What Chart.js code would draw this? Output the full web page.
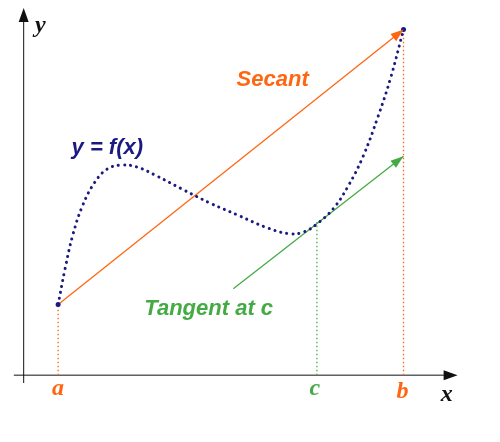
<!DOCTYPE html>
<html>
<head>
<meta charset="utf-8">
<script src="https://cdn.jsdelivr.net/npm/chart.js@4"></script>
<style>body{margin:0;background:#fff}</style>
</head>
<body>
<canvas id="mvt" width="500" height="442"></canvas>
<script>
// coordinates in picture units: x to the right, y upward from the bottom edge
var curveX = [55, 62, 70, 80, 92, 105, 120, 135, 155, 180, 210, 240, 265, 290, 305, 318, 335, 350, 365, 380, 393, 406];
var curveY = [136, 172, 207, 237, 260, 274, 278, 276, 267, 254, 239, 226, 215, 208, 210, 218, 234, 257, 287, 327, 367, 416];
var secantX = [55, 406];
var secantY = [136, 416];
var tangentX = [233, 406];
var tangentY = [152, 287];
var markX = [55, 318, 406];         // a, c, b
var markTop = [136, 220, 416];
var axisY0 = 64;
var labels = [
  {t: "y", x: 37, y: 420, c: "#111", f: "bold italic 24px 'Liberation Serif'"},
  {t: "x", x: 450, y: 44, c: "#111", f: "bold italic 24px 'Liberation Serif'"},
  {t: "a", x: 55, y: 50, c: "#ff6611", f: "bold italic 24px 'Liberation Serif'"},
  {t: "c", x: 316, y: 50, c: "#44aa44", f: "bold italic 24px 'Liberation Serif'"},
  {t: "b", x: 405, y: 47, c: "#ff6611", f: "bold italic 24px 'Liberation Serif'"},
  {t: "Secant", x: 273, y: 365, c: "#ff6611", f: "bold italic 22px 'Liberation Sans'"},
  {t: "y = f(x)", x: 105, y: 295, c: "#1a1a80", f: "bold italic 22px 'Liberation Sans'"},
  {t: "Tangent at c", x: 208, y: 131, c: "#44aa44", f: "bold italic 22px 'Liberation Sans'"}
];

function pts(xs, ys) { return xs.map(function (x, i) { return {x: x, y: ys[i]}; }); }
var orange = "#ff6611", green = "#44aa44", navy = "#1a1a80";

var datasets = [
  {data: pts(curveX, curveY), borderColor: navy, borderWidth: 3, borderDash: [0.1, 6], borderCapStyle: "round",
   tension: 0.4, pointRadius: curveX.map(function (x, i) { return i == 0 || i == curveX.length - 1 ? 2.5 : 0; }),
   pointBackgroundColor: navy, pointBorderWidth: 0},
  {data: pts(secantX, secantY), borderColor: orange, borderWidth: 1.3, pointRadius: 0, arrow: true},
  {data: pts(tangentX, tangentY), borderColor: green, borderWidth: 1.3, pointRadius: 0, arrow: true}
];
var markColors = [orange, green, orange];
markX.forEach(function (x, i) {
  datasets.push({data: [{x: x, y: axisY0}, {x: x, y: markTop[i]}], borderColor: markColors[i],
    borderWidth: 1.3, borderDash: [1.5, 2.5], pointRadius: 0});
});

function arrowHead(ctx, x0, y0, x1, y1, color, len, w) {
  var a = Math.atan2(y1 - y0, x1 - x0);
  ctx.save();
  ctx.fillStyle = color;
  ctx.beginPath();
  ctx.moveTo(x1, y1);
  ctx.lineTo(x1 - len * Math.cos(a) + w * Math.sin(a), y1 - len * Math.sin(a) - w * Math.cos(a));
  ctx.lineTo(x1 - len * Math.cos(a) - w * Math.sin(a), y1 - len * Math.sin(a) + w * Math.cos(a));
  ctx.closePath();
  ctx.fill();
  ctx.restore();
}

var decor = {
  id: "decor",
  beforeDatasetsDraw: function (chart) {
    var ctx = chart.ctx, sx = chart.scales.x, sy = chart.scales.y;
    ctx.save();
    ctx.strokeStyle = "#111";
    ctx.lineWidth = 1;
    ctx.beginPath();
    ctx.moveTo(sx.getPixelForValue(10), sy.getPixelForValue(axisY0));
    ctx.lineTo(sx.getPixelForValue(455), sy.getPixelForValue(axisY0));
    ctx.moveTo(sx.getPixelForValue(20), sy.getPixelForValue(56));
    ctx.lineTo(sx.getPixelForValue(20), sy.getPixelForValue(432));
    ctx.stroke();
    ctx.restore();
    arrowHead(ctx, 0, sy.getPixelForValue(axisY0), sx.getPixelForValue(461), sy.getPixelForValue(axisY0), "#111", 14, 5);
    arrowHead(ctx, sx.getPixelForValue(20), 400, sx.getPixelForValue(20), sy.getPixelForValue(438), "#111", 14, 5);
  },
  afterDatasetsDraw: function (chart) {
    var ctx = chart.ctx, sx = chart.scales.x, sy = chart.scales.y;
    chart.data.datasets.forEach(function (ds) {
      if (!ds.arrow) return;
      var p = ds.data;
      arrowHead(ctx, sx.getPixelForValue(p[0].x), sy.getPixelForValue(p[0].y),
        sx.getPixelForValue(p[1].x), sy.getPixelForValue(p[1].y), ds.borderColor, 13, 4.5);
    });
    ctx.save();
    ctx.textAlign = "center";
    ctx.textBaseline = "middle";
    labels.forEach(function (l) {
      ctx.font = l.f;
      ctx.fillStyle = l.c;
      ctx.fillText(l.t, sx.getPixelForValue(l.x), sy.getPixelForValue(l.y));
    });
    ctx.restore();
  }
};

new Chart(document.getElementById("mvt").getContext("2d"), {
  type: "line",
  data: {datasets: datasets},
  options: {
    responsive: false,
    animation: false,
    layout: {padding: 0},
    plugins: {legend: {display: false}, tooltip: {enabled: false}},
    scales: {
      x: {type: "linear", min: 0, max: 500, display: false},
      y: {type: "linear", min: 0, max: 442, display: false}
    }
  },
  plugins: [decor]
});
</script>
</body>
</html>
